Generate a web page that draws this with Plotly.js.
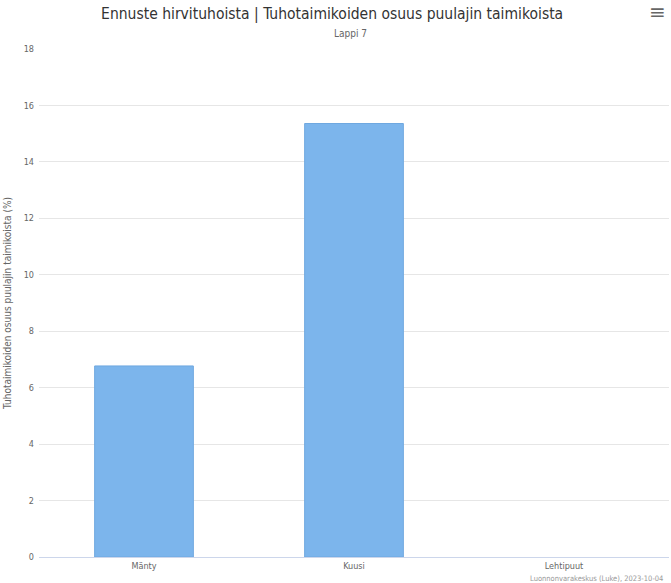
<!DOCTYPE html>
<html><head><meta charset="utf-8">
<script src="https://cdn.plot.ly/plotly-3.0.1.min.js"></script>
<style>html,body{margin:0;padding:0;background:#fff}#c{width:671px;height:583px}</style>
</head><body><div id="c"></div>
<script>
const categories = ["Mänty", "Kuusi", "Lehtipuut"];
const values = [6.77, 15.36, 0];
const yTicks = [0, 2, 4, 6, 8, 10, 12, 14, 16, 18];

const font = "'Liberation Sans Narrow', 'DejaVu Sans Condensed', 'Liberation Sans', Arial, sans-serif";
const data = [{
  type: "bar",
  x: categories,
  y: values,
  marker: {color: "#7cb5ec", line: {color: "#6fa8e0", width: [1, 1, 0]}},
  hoverinfo: "x+y"
}];
const layout = {
  width: 671, height: 583,
  margin: {l: 39, r: 2, t: 49, b: 26},
  paper_bgcolor: "#fff", plot_bgcolor: "#fff",
  bargap: 0.53,
  showlegend: false,
  font: {family: font, color: "#666", size: 9},
  title: {text: "Ennuste hirvituhoista | Tuhotaimikoiden osuus puulajin taimikoista",
          font: {family: font, size: 15.5, color: "#333"}, x: 0.495, xanchor: "center", y: 0.977, yanchor: "middle"},
  xaxis: {type: "category", showline: true, linecolor: "#ccd6eb", linewidth: 1, ticks: "", tickfont: {size: 9, color: "#666"}, fixedrange: true},
  yaxis: {range: [0, 18], tickvals: yTicks, ticktext: yTicks.map(String), showgrid: true, gridcolor: "#e6e6e6", zeroline: false,
          tickfont: {size: 9, color: "#666"}, ticklen: 0, ticks: "", ticklabelstandoff: 4,
          title: {text: "Tuhotaimikoiden osuus puulajin taimikoista (%)", font: {size: 10, color: "#666"}, standoff: 10}},
  annotations: [
    {text: "Lappi 7", xref: "paper", yref: "paper", x: 0.495, y: 1, yanchor: "middle", yshift: 16, showarrow: false, font: {size: 10, color: "#666"}},
    {text: "Luonnonvarakeskus (Luke), 2023-10-04", xref: "paper", yref: "paper", x: 1, y: 0, xanchor: "right", yanchor: "top", yshift: -15, xshift: -4, showarrow: false, font: {size: 7.5, color: "#999"}},
    {text: "≡", xref: "paper", yref: "paper", x: 1, y: 1, xanchor: "right", yanchor: "middle", yshift: 37, xshift: -1, showarrow: false, font: {size: 20, color: "#666", family: "DejaVu Sans"}}
  ]
};
Plotly.newPlot("c", data, layout, {displayModeBar: false, responsive: false});
</script></body></html>
